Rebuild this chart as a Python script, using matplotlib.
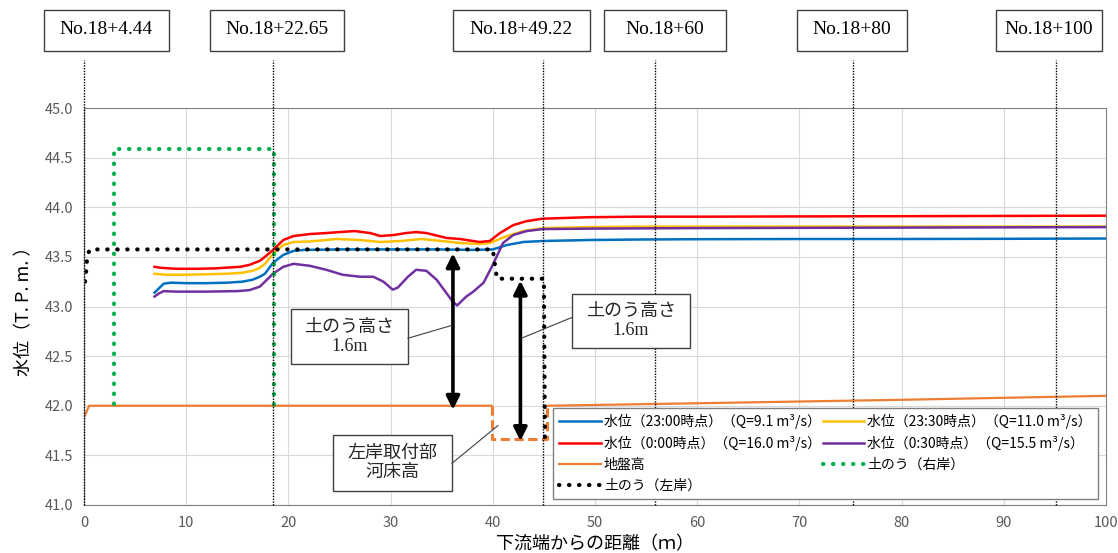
import numpy as np
import matplotlib.pyplot as plt
from matplotlib.patches import Rectangle

plt.rcParams['font.family'] = ['Noto Sans CJK JP', 'DejaVu Sans']

# ---- data ----
# water level, 23:00 (Q=9.1)
blue_x = [6.9, 7.4, 7.8, 8.5, 10, 12, 14, 15.5, 16.5, 17.2, 17.7, 18.5, 19.5, 20.5, 21.5, 25, 30, 35, 38, 40,
          41.4, 43, 44.9, 49.5, 54.4, 60, 70, 80, 90, 100]
blue_y = [43.14, 43.19, 43.23, 43.24, 43.235, 43.235, 43.24, 43.25, 43.27, 43.30, 43.33, 43.44, 43.52, 43.56,
          43.57, 43.575, 43.575, 43.575, 43.57, 43.575, 43.62, 43.65, 43.66, 43.67, 43.675, 43.678, 43.68,
          43.68, 43.682, 43.685]
# water level, 23:30 (Q=11.0)
yellow_x = [6.9, 8, 10, 12, 14, 15.5, 16.5, 17.2, 17.7, 18.5, 19.5, 20.5, 22.1, 24.7, 27, 29, 31, 33, 35,
            36.8, 38.7, 39.7, 41.4, 43, 44.9, 49.5, 54.4, 70, 100]
yellow_y = [43.33, 43.32, 43.32, 43.325, 43.33, 43.34, 43.36, 43.39, 43.43, 43.53, 43.62, 43.65, 43.655,
            43.68, 43.67, 43.65, 43.66, 43.68, 43.66, 43.64, 43.63, 43.64, 43.71, 43.76, 43.79, 43.80, 43.805,
            43.805, 43.805]
# water level, 0:00 (Q=16.0)
red_x = [6.9, 7.5, 9, 11.3, 13, 15.3, 16.2, 16.7, 17.2, 17.7, 18.5, 19.5, 20.5, 22.1, 23.7, 25, 26.5, 28, 29,
         30.3, 31.5, 32.5, 33.5, 35.5, 36.8, 38.7, 39.7, 40.7, 42, 43.3, 44.9, 49.5, 54.4, 60, 80, 100]
red_y = [43.40, 43.39, 43.38, 43.38, 43.385, 43.40, 43.42, 43.44, 43.46, 43.50, 43.57, 43.67, 43.71, 43.73,
         43.74, 43.75, 43.76, 43.74, 43.71, 43.72, 43.74, 43.75, 43.74, 43.69, 43.68, 43.65, 43.66, 43.74,
         43.82, 43.86, 43.885, 43.90, 43.905, 43.905, 43.91, 43.915]
# water level, 0:30 (Q=15.5)
purple_x = [6.9, 7.3, 7.8, 9, 12, 15, 16.2, 17.2, 18.5, 19.5, 20.5, 22.1, 23.7, 25.3, 27, 28.3, 29.3, 30.2,
            30.7, 31.7, 32.5, 33.5, 34.5, 35.5, 36.0, 36.5, 37.4, 38.1, 39.1, 40.0, 41.0, 42.0, 43.3, 44.9,
            50, 60, 80, 100]
purple_y = [43.10, 43.13, 43.155, 43.15, 43.15, 43.155, 43.165, 43.20, 43.33, 43.40, 43.43, 43.41, 43.37,
            43.32, 43.30, 43.30, 43.25, 43.17, 43.19, 43.30, 43.37, 43.36, 43.27, 43.13, 43.06, 43.01, 43.10,
            43.15, 43.24, 43.42, 43.64, 43.72, 43.76, 43.78, 43.785, 43.79, 43.795, 43.80]
# ground level (gap where the left bank junction is)
ground_x = [0, 0.5, 39.9, np.nan, 45.3, 60, 80, 100]
ground_y = [41.88, 42.0, 42.0, np.nan, 42.0, 42.025, 42.06, 42.1]
# river bed at left bank junction (dashed)
bed_x = [39.9, 39.9, 45.3, 45.3]
bed_y = [42.0, 41.665, 41.665, 42.0]
# sandbags, right bank
green_x = [2.9, 2.9, 18.6, 18.6]
green_y = [42.02, 44.59, 44.59, 41.98]
# sandbags, left bank
black_x = [0.1, 0.2, 0.26, 0.42, 0.6, 40.0, 40.4, 45.0, 45.1]
black_y = [43.25, 43.34, 43.44, 43.54, 43.575, 43.575, 43.28, 43.28, 41.67]

# survey stations
station_x = [0, 18.5, 44.9, 55.9, 75.2, 95.1]
station_labels = ['No.18+4.44', 'No.18+22.65', 'No.18+49.22', 'No.18+60', 'No.18+80', 'No.18+100']
# label boxes (pixel extents left, right)
station_box_px = [(44, 169), (210, 344), (453, 590), (604, 726), (797, 907), (996, 1102)]

labels = ['水位（23:00時点）（Q=9.1 m³/s）', '水位（23:30時点）（Q=11.0 m³/s）',
          '水位（0:00時点）（Q=16.0 m³/s）', '水位（0:30時点）（Q=15.5 m³/s）',
          '地盤高', '土のう（右岸）', '土のう（左岸）']

W, H = 1118, 553
fig = plt.figure(figsize=(W / 100, H / 100), dpi=100)
ax = fig.add_axes([84 / W, 48 / H, 1022 / W, 397 / H])

dots = (0, (0.1, 2.3))
l_blue, = ax.plot(blue_x, blue_y, color='#0070C0', lw=1.8)
l_yel, = ax.plot(yellow_x, yellow_y, color='#FFC000', lw=1.8)
l_red, = ax.plot(red_x, red_y, color='#FF0000', lw=1.8)
l_pur, = ax.plot(purple_x, purple_y, color='#7030A0', lw=1.8)
l_gr, = ax.plot(ground_x, ground_y, color='#ED7D31', lw=1.6)
ax.plot(bed_x, bed_y, color='#ED7D31', lw=2.2, ls=(0, (3, 1.5)))
l_grn, = ax.plot(green_x, green_y, color='#00B050', lw=3, ls=dots, dash_capstyle='round')
l_blk, = ax.plot(black_x, black_y, color='black', lw=3, ls=dots, dash_capstyle='round')

# station lines reaching above the plot
top = 45.48
for sx in station_x:
    ax.plot([sx, sx], [41.0, top], color='black', lw=1.0, ls=(0, (1, 1)), clip_on=False, zorder=5)
for (px0, px1), lab in zip(station_box_px, station_labels):
    fig.add_artist(Rectangle((px0 / W, (H - 51) / H), (px1 - px0) / W, 41 / H, transform=fig.transFigure,
                             facecolor='white', edgecolor='#404040', lw=1.0))
    fig.text((px0 + px1) / 2 / W, (H - 30) / H, lab, ha='center', va='center', fontsize=14,
             family=['Liberation Serif', 'Noto Sans CJK JP'])

# height arrows: ground -> sandbag top, bed -> lower sandbag
arrow = dict(arrowstyle='<|-|>', lw=2.6, color='black', mutation_scale=20, shrinkA=0, shrinkB=0)
ax.annotate('', xy=(36.1, ground_y[1] - 0.04), xytext=(36.1, black_y[5] - 0.04), arrowprops=arrow)
ax.annotate('', xy=(42.7, bed_y[1] - 0.02), xytext=(42.7, black_y[7] - 0.02), arrowprops=arrow)

# annotation boxes with leader lines
serif = ['Liberation Serif', 'Noto Sans CJK JP']
def note(x0, x1, y0, y1, text, lx, ly, tx, ty):
    ax.add_patch(Rectangle((x0, y0), x1 - x0, y1 - y0, facecolor='white', edgecolor='#404040', lw=1.0,
                           zorder=6))
    ax.text((x0 + x1) / 2, (y0 + y1) / 2, text, ha='center', va='center', fontsize=13,
            family=serif, linespacing=1.15, zorder=7, color='#262626')
    ax.plot([lx, tx], [ly, ty], color='#404040', lw=0.8, zorder=6)

note(20.25, 31.7, 42.42, 42.974, '土のう高さ\n1.6m', 31.7, 42.68, 36.0, 42.81)
note(47.75, 59.3, 42.58, 43.125, '土のう高さ\n1.6m', 47.75, 42.89, 42.8, 42.68)
note(24.4, 36.0, 41.14, 41.71, '左岸取付部\n河床高', 36.0, 41.42, 40.5, 41.8)

ax.set_xlim(0, 100)
ax.set_ylim(41.0, 45.0)
ax.set_xticks(np.arange(0, 101, 10))
ax.set_yticks(np.arange(41.0, 45.01, 0.5))
ax.set_yticklabels([f'{v:.1f}' for v in np.arange(41.0, 45.01, 0.5)])
ax.grid(True, color='#D9D9D9', lw=0.8)
ax.set_axisbelow(True)
ax.tick_params(length=0, labelsize=10.5, labelcolor='#595959', pad=8)
for s in ax.spines.values():
    s.set_color('#808080')
ax.set_xlabel('下流端からの距離（ｍ）', fontsize=13, labelpad=4)
ax.set_ylabel('水位（T. P. m. ）', fontsize=13, labelpad=8)

handles = [l_blue, l_red, l_gr, l_blk, l_yel, l_pur, l_grn]
hl = [labels[0], labels[2], labels[4], labels[6], labels[1], labels[3], labels[5]]
leg = ax.legend(handles, hl, ncol=2, loc='lower left', bbox_to_anchor=(0.459, 0.015, 0.533, 0.22),
                mode='expand', borderaxespad=0, fontsize=10, frameon=True, fancybox=False, framealpha=1,
                edgecolor='#808080', handlelength=3.0, handletextpad=0.2, labelspacing=0.5,
                borderpad=0.45)
leg.set_zorder(8)

plt.savefig('out.png', dpi=100)
